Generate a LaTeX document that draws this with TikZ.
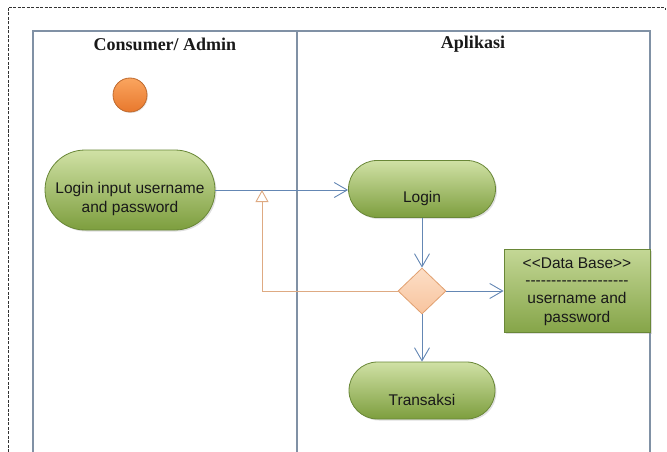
\documentclass[tikz,border=0pt]{standalone}
\usepackage{fontspec}
\setmainfont{Liberation Sans}
\newfontfamily\headfont{Liberation Serif}
\usetikzlibrary{arrows.meta,shapes.misc,shapes.geometric,shadows}

\definecolor{lanecol}{RGB}{128,145,165}
\definecolor{flowcol}{RGB}{100,135,180}
\definecolor{backcol}{RGB}{222,170,130}
\definecolor{gtop}{RGB}{208,225,165}
\definecolor{gbot}{RGB}{125,158,62}
\definecolor{gline}{RGB}{105,135,55}
\definecolor{dtop}{RGB}{252,222,198}
\definecolor{dbot}{RGB}{248,196,158}
\definecolor{dline}{RGB}{225,160,112}
\definecolor{otop}{RGB}{250,165,95}
\definecolor{obot}{RGB}{232,120,45}
\definecolor{oline}{RGB}{190,105,45}
\definecolor{txt}{RGB}{25,25,25}

\tikzset{
  lane/.style={draw=lanecol, line width=1.1pt},
  head/.style={font=\headfont\bfseries\fontsize{18}{21}\selectfont, text=txt},
  act/.style={rounded rectangle, draw=gline, line width=0.8pt,
    top color=gtop, bottom color=gbot, inner sep=0pt,
    drop shadow={shadow xshift=1.5pt, shadow yshift=-1.5pt, opacity=0.25}},
  acttext/.style={font=\fontsize{15.5}{19.5}\selectfont, text=txt, align=center, inner sep=0pt},
  store/.style={rectangle, draw=gline, line width=0.8pt,
    top color=gtop!85!gbot, bottom color=gbot!90!gtop, inner sep=0pt,
    drop shadow={shadow xshift=1.5pt, shadow yshift=-1.5pt, opacity=0.25}},
  decision/.style={diamond, draw=dline, line width=0.8pt, top color=dtop, bottom color=dbot,
    inner sep=0pt, minimum width=48pt, minimum height=46pt, aspect=1.04},
  startdot/.style={circle, draw=oline, line width=0.8pt, top color=otop, bottom color=obot,
    minimum size=34pt, inner sep=0pt,
    drop shadow={shadow xshift=1pt, shadow yshift=-1pt, opacity=0.2}},
  flow/.style={draw=flowcol, line width=0.9pt, -{Straight Barb[length=13pt,width=15pt,line width=0.9pt]}},
  back/.style={draw=backcol, line width=0.9pt, -{Triangle[open,length=12pt,width=13pt,line width=0.9pt,fill=white]}},
  frame/.style={draw=black!80, line width=0.6pt, dash pattern=on 3pt off 1.5pt}
}

\begin{document}
\begin{tikzpicture}[x=1pt, y=-1pt]
\useasboundingbox (0,0) rectangle (667,452);
\clip (0,0) rectangle (667,452);

% page frame
\draw[frame] (8,470) -- (8,7) -- (665,7) -- (665,10);

% swimlanes
\draw[lane] (33,470) -- (33,31) -- (650,31) -- (650,470);
\draw[lane] (297,31) -- (297,470);
\node[head] (h1) at (165,44) {Consumer/ Admin};
\node[head] (h2) at (473,44) {Aplikasi};

% start
\node[startdot] (start) at (130,95) {};

% activities
\node[act, minimum width=170pt, minimum height=80pt] (input) at (130,190) {};
\node[acttext] (inputT) at (130,199) {Login input username\\and password};

\node[act, minimum width=147pt, minimum height=57pt] (login) at (422,189) {};
\node[acttext] (loginT) at (422,198) {Login};

\node[decision] (dec) at (422,291) {};

\node[store, minimum width=146pt, minimum height=83pt] (db) at (577,291) {};
\node[acttext] (dbT) at (577,292) {<\kern0pt<Data Base>\kern0pt>\\[-2pt]
  \foreach \k in {1,...,20}{-\kern0pt}\\[-2pt]
  username and\\password};

\node[act, minimum width=146pt, minimum height=57pt] (trans) at (422,390.5) {};
\node[acttext] (transT) at (422,400) {Transaksi};

% flows
\coordinate (fb) at (262,190);
\draw[flow] (input.east) -- (input.east -| login.west);
\draw[flow] (login.south) -- (dec.north);
\draw[flow] (dec.east) -- (dec.east -| db.west);
\draw[flow] (dec.south) -- (trans.north);
\draw[back] (dec.west) -| (fb);
\end{tikzpicture}
\end{document}
